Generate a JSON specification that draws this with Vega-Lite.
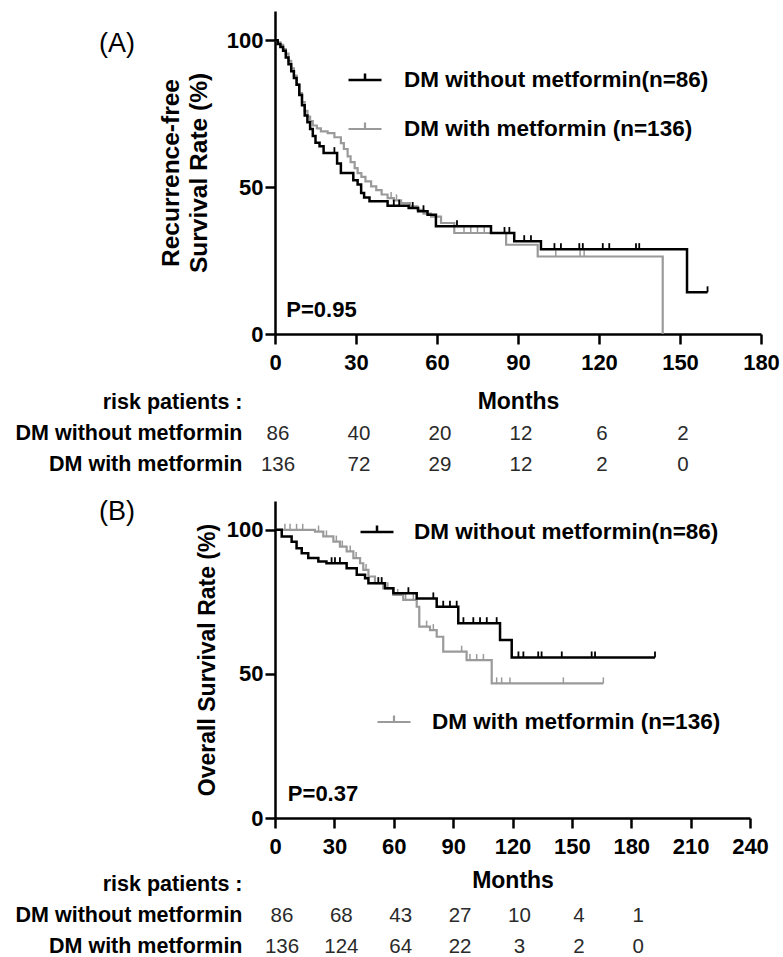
{
  "$schema": "https://vega.github.io/schema/vega-lite/v6.json",
  "padding": {"left": 15, "top": 11, "right": 5, "bottom": 0},
  "background": "white",
  "config": {
    "font": "Liberation Sans",
    "view": {"stroke": null},
    "axis": {"grid": false, "domainColor": "#000", "domainWidth": 2.5, "tickColor": "#000", "tickWidth": 2.5, "labelColor": "#000", "labelFont": "Liberation Sans", "labelFontSize": 22, "labelFontWeight": "bold", "titleColor": "#000", "titleFont": "Liberation Sans", "titleFontWeight": "bold"},
    "legend": {"orient": "none", "title": null, "symbolType": "M-1,0H1M0,0V-0.4", "symbolSize": 1089, "symbolStrokeWidth": 2.5, "labelFont": "Liberation Sans", "labelFontSize": 22.5, "labelFontWeight": "bold", "labelColor": "#000", "labelLimit": 0, "padding": 0}
  },
  "datasets": {
    "rfs_without": [
      {"month": 0, "surv": 100}, {"month": 1, "surv": 98.8}, {"month": 2, "surv": 97.7}, {"month": 3, "surv": 96.5}, {"month": 4, "surv": 94.2}, {"month": 5, "surv": 91.9}, {"month": 6, "surv": 89.5}, {"month": 7, "surv": 87.2}, {"month": 8, "surv": 84.9}, {"month": 9, "surv": 81.4}, {"month": 10, "surv": 77.9}, {"month": 11, "surv": 74.4}, {"month": 12, "surv": 72.1}, {"month": 13, "surv": 69.8}, {"month": 14, "surv": 67.4}, {"month": 15, "surv": 65.1}, {"month": 16.5, "surv": 63.9}, {"month": 18, "surv": 61.6}, {"month": 23, "surv": 58.1}, {"month": 24.4, "surv": 54.8}, {"month": 29, "surv": 52.4}, {"month": 30.6, "surv": 50.9}, {"month": 31.9, "surv": 48}, {"month": 33, "surv": 46.5}, {"month": 35, "surv": 45.2}, {"month": 41.7, "surv": 43.7}, {"month": 49.5, "surv": 42.9}, {"month": 53, "surv": 41.8}, {"month": 56.5, "surv": 40.6}, {"month": 59.6, "surv": 36.7}, {"month": 80, "surv": 34.4}, {"month": 88.6, "surv": 31.6}, {"month": 98.5, "surv": 28.9}, {"month": 152.6, "surv": 14.2}, {"month": 160.2, "surv": 14.2}
    ],
    "rfs_without_cens": [
      {"month": 22, "surv": 61.6}, {"month": 44, "surv": 43.7}, {"month": 46, "surv": 43.7}, {"month": 51, "surv": 42.9}, {"month": 55, "surv": 41.8}, {"month": 67.4, "surv": 36.7}, {"month": 85, "surv": 34.4}, {"month": 86.8, "surv": 34.4}, {"month": 92.3, "surv": 31.6}, {"month": 94.8, "surv": 31.6}, {"month": 103.5, "surv": 28.9}, {"month": 105.9, "surv": 28.9}, {"month": 112.7, "surv": 28.9}, {"month": 114, "surv": 28.9}, {"month": 121.4, "surv": 28.9}, {"month": 123.8, "surv": 28.9}, {"month": 133.7, "surv": 28.9}, {"month": 134.9, "surv": 28.9}, {"month": 160.2, "surv": 14.2}
    ],
    "rfs_with": [
      {"month": 0, "surv": 100}, {"month": 1, "surv": 99.3}, {"month": 2, "surv": 98.5}, {"month": 3, "surv": 97}, {"month": 4, "surv": 95.5}, {"month": 5, "surv": 93}, {"month": 6, "surv": 90.5}, {"month": 7, "surv": 88}, {"month": 8, "surv": 85}, {"month": 9, "surv": 82}, {"month": 10, "surv": 79}, {"month": 11, "surv": 76}, {"month": 12, "surv": 74}, {"month": 13, "surv": 72.5}, {"month": 14, "surv": 71}, {"month": 15.5, "surv": 70}, {"month": 17, "surv": 69}, {"month": 19.5, "surv": 68.4}, {"month": 22, "surv": 67}, {"month": 24.4, "surv": 65}, {"month": 25.5, "surv": 63}, {"month": 26.9, "surv": 60.5}, {"month": 28, "surv": 58.5}, {"month": 29.5, "surv": 56.5}, {"month": 30.6, "surv": 54.8}, {"month": 32, "surv": 53.5}, {"month": 33.5, "surv": 52}, {"month": 35.6, "surv": 50.3}, {"month": 37.5, "surv": 49}, {"month": 39.5, "surv": 47.5}, {"month": 41.7, "surv": 46.3}, {"month": 44, "surv": 45.5}, {"month": 46.7, "surv": 44.6}, {"month": 50, "surv": 43.5}, {"month": 52.8, "surv": 42.3}, {"month": 55, "surv": 41}, {"month": 57.8, "surv": 40}, {"month": 61.5, "surv": 37.8}, {"month": 66.4, "surv": 34.4}, {"month": 85.6, "surv": 30.4}, {"month": 97.3, "surv": 26.4}, {"month": 143.6, "surv": 0}
    ],
    "rfs_with_cens": [
      {"month": 43, "surv": 46.3}, {"month": 45, "surv": 45.5}, {"month": 70, "surv": 34.4}, {"month": 72.5, "surv": 34.4}, {"month": 75, "surv": 34.4}, {"month": 77.5, "surv": 34.4}, {"month": 104, "surv": 26.4}, {"month": 113, "surv": 26.4}, {"month": 114.5, "surv": 26.4}
    ],
    "os_without": [
      {"month": 0, "surv": 100}, {"month": 3.4, "surv": 97.7}, {"month": 8.4, "surv": 95.9}, {"month": 10.9, "surv": 93.6}, {"month": 13.5, "surv": 91.9}, {"month": 16.8, "surv": 90.2}, {"month": 21.9, "surv": 89}, {"month": 26, "surv": 88.4}, {"month": 36.2, "surv": 86.7}, {"month": 41.3, "surv": 84.4}, {"month": 45.5, "surv": 83.2}, {"month": 47.2, "surv": 81.5}, {"month": 55.6, "surv": 79.7}, {"month": 59.8, "surv": 78}, {"month": 71.6, "surv": 76.2}, {"month": 81.7, "surv": 73.3}, {"month": 92.6, "surv": 67.6}, {"month": 113.7, "surv": 61.8}, {"month": 119.6, "surv": 55.7}, {"month": 192, "surv": 55.7}
    ],
    "os_without_cens": [
      {"month": 28.6, "surv": 88.4}, {"month": 30.3, "surv": 88.4}, {"month": 32.8, "surv": 88.4}, {"month": 52.2, "surv": 81.5}, {"month": 53.9, "surv": 81.5}, {"month": 67.4, "surv": 78}, {"month": 80, "surv": 76.2}, {"month": 85, "surv": 73.3}, {"month": 88.4, "surv": 73.3}, {"month": 91.8, "surv": 73.3}, {"month": 95.2, "surv": 67.6}, {"month": 100.2, "surv": 67.6}, {"month": 103.6, "surv": 67.6}, {"month": 107, "surv": 67.6}, {"month": 112, "surv": 67.6}, {"month": 123, "surv": 55.7}, {"month": 125.5, "surv": 55.7}, {"month": 133, "surv": 55.7}, {"month": 134.7, "surv": 55.7}, {"month": 144.9, "surv": 55.7}, {"month": 160, "surv": 55.7}, {"month": 161.7, "surv": 55.7}, {"month": 192, "surv": 55.7}
    ],
    "os_with": [
      {"month": 0, "surv": 100}, {"month": 20.2, "surv": 99.4}, {"month": 24.4, "surv": 97.7}, {"month": 29.5, "surv": 95.9}, {"month": 32.8, "surv": 94.2}, {"month": 36.2, "surv": 92.5}, {"month": 39.6, "surv": 90.2}, {"month": 43, "surv": 88.4}, {"month": 44.6, "surv": 86.1}, {"month": 47.2, "surv": 83.8}, {"month": 50.5, "surv": 81.5}, {"month": 54.7, "surv": 79.7}, {"month": 59.8, "surv": 77.4}, {"month": 64.8, "surv": 75.7}, {"month": 71.6, "surv": 73.3}, {"month": 72.9, "surv": 66.4}, {"month": 78.3, "surv": 65.2}, {"month": 81.7, "surv": 62.9}, {"month": 85, "surv": 57.7}, {"month": 96.8, "surv": 54.8}, {"month": 109.5, "surv": 46.7}, {"month": 165.9, "surv": 46.7}
    ],
    "os_with_cens": [
      {"month": 5, "surv": 100}, {"month": 7.6, "surv": 100}, {"month": 10.9, "surv": 100}, {"month": 14, "surv": 100}, {"month": 22, "surv": 99.4}, {"month": 26, "surv": 97.7}, {"month": 31, "surv": 95.9}, {"month": 34, "surv": 94.2}, {"month": 38, "surv": 92.5}, {"month": 41, "surv": 90.2}, {"month": 46, "surv": 86.1}, {"month": 57, "surv": 79.7}, {"month": 62, "surv": 77.4}, {"month": 66, "surv": 75.7}, {"month": 69.9, "surv": 75.7}, {"month": 76.6, "surv": 66.4}, {"month": 80, "surv": 65.2}, {"month": 94.3, "surv": 57.7}, {"month": 98.5, "surv": 54.8}, {"month": 101.9, "surv": 54.8}, {"month": 105.3, "surv": 54.8}, {"month": 112, "surv": 46.7}, {"month": 114.5, "surv": 46.7}, {"month": 118.7, "surv": 46.7}, {"month": 145.7, "surv": 46.7}, {"month": 165.9, "surv": 46.7}
    ],
    "riskA": [
      {"row": "DM without metformin", "month": 0, "n": 86}, {"row": "DM without metformin", "month": 30, "n": 40}, {"row": "DM without metformin", "month": 60, "n": 20}, {"row": "DM without metformin", "month": 90, "n": 12}, {"row": "DM without metformin", "month": 120, "n": 6}, {"row": "DM without metformin", "month": 150, "n": 2},
      {"row": "DM with metformin", "month": 0, "n": 136}, {"row": "DM with metformin", "month": 30, "n": 72}, {"row": "DM with metformin", "month": 60, "n": 29}, {"row": "DM with metformin", "month": 90, "n": 12}, {"row": "DM with metformin", "month": 120, "n": 2}, {"row": "DM with metformin", "month": 150, "n": 0}
    ],
    "riskB": [
      {"row": "DM without metformin", "month": 0, "n": 86}, {"row": "DM without metformin", "month": 30, "n": 68}, {"row": "DM without metformin", "month": 60, "n": 43}, {"row": "DM without metformin", "month": 90, "n": 27}, {"row": "DM without metformin", "month": 120, "n": 10}, {"row": "DM without metformin", "month": 150, "n": 4}, {"row": "DM without metformin", "month": 180, "n": 1},
      {"row": "DM with metformin", "month": 0, "n": 136}, {"row": "DM with metformin", "month": 30, "n": 124}, {"row": "DM with metformin", "month": 60, "n": 64}, {"row": "DM with metformin", "month": 90, "n": 22}, {"row": "DM with metformin", "month": 120, "n": 3}, {"row": "DM with metformin", "month": 150, "n": 2}, {"row": "DM with metformin", "month": 180, "n": 0}
    ]
  },
  "spacing": 22,
  "resolve": {"scale": {"x": "independent", "y": "independent", "color": "independent"}},
  "vconcat": [
    {
      "bounds": "flush",
      "spacing": 61,
      "resolve": {"scale": {"x": "independent", "y": "independent", "color": "independent"}},
      "vconcat": [
        {
          "width": 486,
          "height": 323,
          "title": {"text": "(A)", "anchor": "start", "frame": "group", "fontSize": 27, "fontWeight": "normal", "color": "#000", "baseline": "top", "dx": -176, "dy": 51},
          "resolve": {"scale": {"color": "independent"}},
          "layer": [
            {
              "data": {"name": "rfs_with"},
              "mark": {"type": "line", "interpolate": "step-after", "strokeWidth": 2.2},
              "encoding": {
                "x": {"field": "month", "type": "quantitative", "scale": {"domain": [0, 180], "nice": false}, "axis": {"values": [0, 30, 60, 90, 120, 150, 180], "title": "Months", "titleFontSize": 23, "titlePadding": 17, "tickSize": 10, "labelPadding": 8, "labelFlush": false}},
                "y": {"field": "surv", "type": "quantitative", "scale": {"domain": [0, 110], "nice": false}, "axis": {"values": [0, 50, 100], "title": ["Recurrence-free", "Survival Rate (%)"], "titleFontSize": 24.5, "titleLineHeight": 28, "titlePadding": 15, "tickSize": 10, "labelPadding": 2}},
                "color": {"datum": "DM with metformin (n=136)", "scale": {"domain": ["DM with metformin (n=136)"], "range": ["#9a9a9a"]}, "legend": {"legendX": 72, "legendY": 100, "labelOffset": 21, "symbolStrokeWidth": 2.2}}
              }
            },
            {
              "data": {"name": "rfs_with_cens"},
              "mark": {"type": "point", "shape": "M0,0V-1", "size": 144, "filled": false, "strokeWidth": 1.5, "color": "#9a9a9a", "opacity": 1},
              "encoding": {"x": {"field": "month", "type": "quantitative"}, "y": {"field": "surv", "type": "quantitative"}}
            },
            {
              "data": {"name": "rfs_without"},
              "mark": {"type": "line", "interpolate": "step-after", "strokeWidth": 2.5},
              "encoding": {
                "x": {"field": "month", "type": "quantitative"},
                "y": {"field": "surv", "type": "quantitative"},
                "color": {"datum": "DM without metformin(n=86)", "scale": {"domain": ["DM without metformin(n=86)"], "range": ["#000000"]}, "legend": {"legendX": 72, "legendY": 51, "labelOffset": 21}}
              }
            },
            {
              "data": {"name": "rfs_without_cens"},
              "mark": {"type": "point", "shape": "M0,0V-1", "size": 144, "filled": false, "strokeWidth": 1.8, "color": "#000000", "opacity": 1},
              "encoding": {"x": {"field": "month", "type": "quantitative"}, "y": {"field": "surv", "type": "quantitative"}}
            },
            {
              "data": {"values": [{"label": "P=0.95"}]},
              "mark": {"type": "text", "align": "left", "baseline": "middle", "fontSize": 22, "fontWeight": "bold", "color": "#000"},
              "encoding": {"x": {"datum": 4.2, "type": "quantitative"}, "y": {"datum": 8.3, "type": "quantitative"}, "text": {"field": "label"}}
            }
          ]
        },
        {
          "width": 486,
          "height": 77.5,
          "data": {"name": "riskA"},
          "mark": {"type": "text", "fontSize": 20.5, "font": "Liberation Sans", "dx": 3, "color": "#2a2a2a"},
          "encoding": {
            "x": {"field": "month", "type": "quantitative", "scale": {"domain": [0, 180], "nice": false}, "axis": null},
            "y": {"field": "row", "type": "nominal", "scale": {"type": "point", "padding": 0.25, "domain": ["risk patients :", "DM without metformin", "DM with metformin"]}, "axis": {"title": null, "ticks": false, "domain": false, "labelPadding": 33, "labelFontSize": 21.5, "labelFontWeight": "bold", "labelLimit": 0}},
            "text": {"field": "n", "type": "nominal"}
          }
        }
      ]
    },
    {
      "bounds": "flush",
      "spacing": 59,
      "resolve": {"scale": {"x": "independent", "y": "independent", "color": "independent"}},
      "vconcat": [
        {
          "width": 475,
          "height": 317,
          "title": {"text": "(B)", "anchor": "start", "frame": "group", "fontSize": 27, "fontWeight": "normal", "color": "#000", "baseline": "top", "dx": -176, "dy": 29},
          "resolve": {"scale": {"color": "independent"}},
          "layer": [
            {
              "data": {"name": "os_with"},
              "mark": {"type": "line", "interpolate": "step-after", "strokeWidth": 2.2},
              "encoding": {
                "x": {"field": "month", "type": "quantitative", "scale": {"domain": [0, 240], "nice": false}, "axis": {"values": [0, 30, 60, 90, 120, 150, 180, 210, 240], "title": "Months", "titleFontSize": 23, "titlePadding": 12, "tickSize": 10, "labelPadding": 8, "labelFlush": false}},
                "y": {"field": "surv", "type": "quantitative", "scale": {"domain": [0, 110], "nice": false}, "axis": {"values": [0, 50, 100], "title": "Overall Survival Rate (%)", "titleFontSize": 23, "titlePadding": 7, "tickSize": 10, "labelPadding": 2}},
                "color": {"datum": "DM with metformin (n=136)", "scale": {"domain": ["DM with metformin (n=136)"], "range": ["#9a9a9a"]}, "legend": {"legendX": 101, "legendY": 203, "labelOffset": 20, "symbolStrokeWidth": 2.2}}
              }
            },
            {
              "data": {"name": "os_with_cens"},
              "mark": {"type": "point", "shape": "M0,0V-1", "size": 144, "filled": false, "strokeWidth": 1.5, "color": "#9a9a9a", "opacity": 1},
              "encoding": {"x": {"field": "month", "type": "quantitative"}, "y": {"field": "surv", "type": "quantitative"}}
            },
            {
              "data": {"name": "os_without"},
              "mark": {"type": "line", "interpolate": "step-after", "strokeWidth": 2.5},
              "encoding": {
                "x": {"field": "month", "type": "quantitative"},
                "y": {"field": "surv", "type": "quantitative"},
                "color": {"datum": "DM without metformin(n=86)", "scale": {"domain": ["DM without metformin(n=86)"], "range": ["#000000"]}, "legend": {"legendX": 84, "legendY": 13, "labelOffset": 19}}
              }
            },
            {
              "data": {"name": "os_without_cens"},
              "mark": {"type": "point", "shape": "M0,0V-1", "size": 144, "filled": false, "strokeWidth": 1.8, "color": "#000000", "opacity": 1},
              "encoding": {"x": {"field": "month", "type": "quantitative"}, "y": {"field": "surv", "type": "quantitative"}}
            },
            {
              "data": {"values": [{"label": "P=0.37"}]},
              "mark": {"type": "text", "align": "left", "baseline": "middle", "fontSize": 22, "fontWeight": "bold", "color": "#000"},
              "encoding": {"x": {"datum": 6.5, "type": "quantitative"}, "y": {"datum": 8.4, "type": "quantitative"}, "text": {"field": "label"}}
            }
          ]
        },
        {
          "width": 475,
          "height": 77.5,
          "data": {"name": "riskB"},
          "mark": {"type": "text", "fontSize": 20.5, "font": "Liberation Sans", "dx": 7, "color": "#2a2a2a"},
          "encoding": {
            "x": {"field": "month", "type": "quantitative", "scale": {"domain": [0, 240], "nice": false}, "axis": null},
            "y": {"field": "row", "type": "nominal", "scale": {"type": "point", "padding": 0.25, "domain": ["risk patients :", "DM without metformin", "DM with metformin"]}, "axis": {"title": null, "ticks": false, "domain": false, "labelPadding": 33, "labelFontSize": 21.5, "labelFontWeight": "bold", "labelLimit": 0}},
            "text": {"field": "n", "type": "nominal"}
          }
        }
      ]
    }
  ]
}
